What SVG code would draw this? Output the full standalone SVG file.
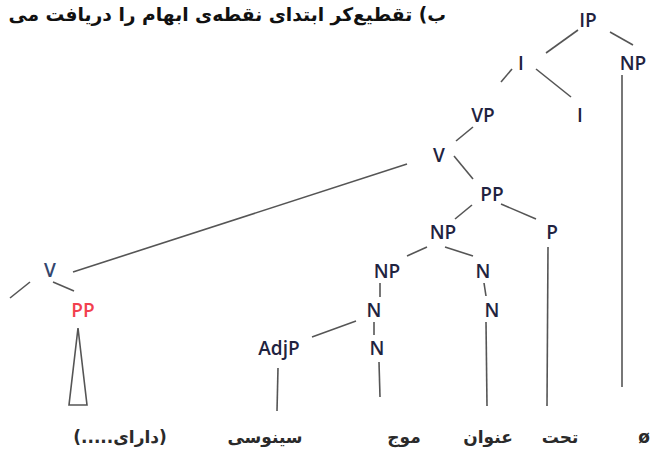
<svg xmlns="http://www.w3.org/2000/svg" width="651" height="449" viewBox="0 0 651 449">
<style>
.lbl{font-family:"Open Sans","Liberation Sans",sans-serif;font-size:19px;font-weight:600;fill:#1f2340;text-anchor:middle}
.red{fill:#f2404e}
.leaf{font-family:"DejaVu Sans",sans-serif;font-size:17px;font-weight:bold;fill:#2a2a2a;text-anchor:middle}
.edge{stroke:#555;stroke-width:1.6;fill:none}
.title{font-family:"DejaVu Sans",sans-serif;font-size:18.7px;font-weight:bold;fill:#111}
</style>
<rect width="651" height="449" fill="#fff"/>
<text class="title" x="446" y="21" direction="rtl" text-anchor="start">ب) تقطیع‌کر ابتدای نقطه‌ی ابهام را دریافت می</text>
<g id="connectors">
<line class="edge" x1="578" y1="30" x2="546" y2="53"/>
<line class="edge" x1="610" y1="32" x2="633" y2="45"/>
<line class="edge" x1="622" y1="75" x2="622" y2="387"/>
<line class="edge" x1="512" y1="69" x2="501" y2="82"/>
<line class="edge" x1="536" y1="69" x2="571" y2="97"/>
<line class="edge" x1="473" y1="127" x2="456" y2="141"/>
<line class="edge" x1="454" y1="156" x2="473" y2="179"/>
<line class="edge" x1="407" y1="164" x2="73" y2="272"/>
<line class="edge" x1="472" y1="205" x2="455" y2="219"/>
<line class="edge" x1="501" y1="204" x2="536" y2="219"/>
<line class="edge" x1="548" y1="247" x2="547" y2="406"/>
<line class="edge" x1="427" y1="247" x2="407" y2="256"/>
<line class="edge" x1="445" y1="247" x2="473" y2="256"/>
<line class="edge" x1="380" y1="283" x2="380" y2="297"/>
<line class="edge" x1="484" y1="283" x2="486" y2="296"/>
<line class="edge" x1="374" y1="322" x2="374" y2="335"/>
<line class="edge" x1="356" y1="321" x2="312" y2="337"/>
<line class="edge" x1="278" y1="368" x2="277" y2="411"/>
<line class="edge" x1="379" y1="362" x2="380" y2="397"/>
<line class="edge" x1="486" y1="322" x2="487" y2="406"/>
<line class="edge" x1="30" y1="282" x2="10" y2="298"/>
<line class="edge" x1="53" y1="282" x2="74" y2="291"/>
<polygon class="edge" points="78,328 69,405 87,405"/>
</g>
<g id="n-IP"><text class="lbl" x="588" y="27">IP</text></g>
<g id="n-NP1"><text class="lbl" x="633" y="70">NP</text></g>
<g id="n-I1"><text class="lbl" x="521" y="70">I</text></g>
<g id="n-I2"><text class="lbl" x="580" y="122">I</text></g>
<g id="n-VP"><text class="lbl" x="483" y="122">VP</text></g>
<g id="n-V1"><text class="lbl" x="439" y="162">V</text></g>
<g id="n-PP1"><text class="lbl" x="492" y="201">PP</text></g>
<g id="n-NP2"><text class="lbl" x="443" y="239">NP</text></g>
<g id="n-P"><text class="lbl" x="552" y="239">P</text></g>
<g id="n-NP3"><text class="lbl" x="387" y="278">NP</text></g>
<g id="n-N1"><text class="lbl" x="483" y="278">N</text></g>
<g id="n-N2"><text class="lbl" x="374" y="317">N</text></g>
<g id="n-N3"><text class="lbl" x="492" y="317">N</text></g>
<g id="n-AdjP"><text class="lbl" x="279" y="355">AdjP</text></g>
<g id="n-N4"><text class="lbl" x="377" y="355">N</text></g>
<g id="n-V2"><text class="lbl" x="50" y="277" style="fill:#34466e">V</text></g>
<g id="n-PP2"><text class="lbl red" x="83" y="317">PP</text></g>
<g id="leaf-dara"><text class="leaf red" x="120" y="443" direction="rtl">(دارای.....)</text></g>
<g id="leaf-sinusi"><text class="leaf" x="265" y="443">سینوسی</text></g>
<g id="leaf-moj"><text class="leaf" x="404" y="443">موج</text></g>
<g id="leaf-onvan"><text class="leaf" x="488" y="443">عنوان</text></g>
<g id="leaf-taht"><text class="leaf" x="560" y="443">تحت</text></g>
<g id="leaf-null"><text class="leaf" x="644" y="443">ø</text></g>
</svg>
